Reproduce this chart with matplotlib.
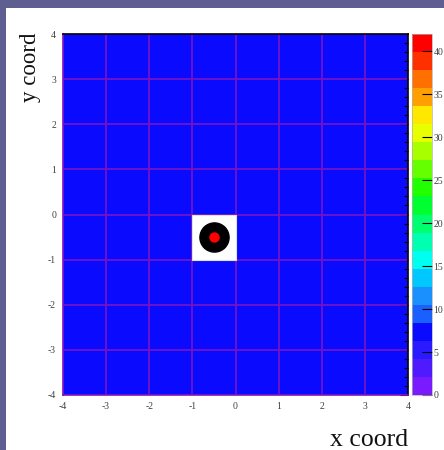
import numpy as np
import matplotlib
matplotlib.use("Agg")
import matplotlib.pyplot as plt
from matplotlib.colors import ListedColormap, BoundaryNorm
from matplotlib.patches import Rectangle
from matplotlib.ticker import MultipleLocator

# ---- data ----
x_edges = [-4, -3, -2, -1, 0, 1, 2, 3, 4]
y_edges = [-4, -3, -2, -1, 0, 1, 2, 3, 4]
# bin contents (rows = y from -4 up, cols = x from -4 right); 0 = empty bin (not drawn)
bin_values = [
    [7, 7, 7, 7, 7, 7, 7, 7],
    [7, 7, 7, 7, 7, 7, 7, 7],
    [7, 7, 7, 7, 7, 7, 7, 7],
    [7, 7, 7, 0, 7, 7, 7, 7],
    [7, 7, 7, 7, 7, 7, 7, 7],
    [7, 7, 7, 7, 7, 7, 7, 7],
    [7, 7, 7, 7, 7, 7, 7, 7],
    [7, 7, 7, 7, 7, 7, 7, 7],
]
marker_x = [-0.5]
marker_y = [-0.5]
z_max = 42.0
n_levels = 20
x_ticks = [-4, -3, -2, -1, 0, 1, 2, 3, 4]
y_ticks = [-4, -3, -2, -1, 0, 1, 2, 3, 4]
cbar_ticks = [0, 5, 10, 15, 20, 25, 30, 35, 40]
palette = ['#7a1aff', '#501aff', '#2a1aff', '#0a0aff', '#1a60ff', '#1a90ff',
           '#00c8ff', '#00fff0', '#00ffb0', '#00ff70', '#00ff30', '#22ff00',
           '#66ff00', '#a8ff00', '#e8ff00', '#ffe800', '#ffa000', '#ff7000',
           '#ff3000', '#ff0000']

W, H = 444, 450
fig = plt.figure(figsize=(W / 100, H / 100), dpi=100)
fig.patch.set_facecolor('#5e5e90')
fig.patches.append(Rectangle((6 / W, 0), 1 - 6 / W, 1 - 8 / H, transform=fig.transFigure,
                             facecolor='white', edgecolor='none', zorder=-10))

ax = fig.add_axes([63 / W, 1 - 395 / H, (408 - 63) / W, (395 - 34) / H])
ax.set_facecolor('white')

cmap = ListedColormap(palette)
levels = np.linspace(0, z_max, n_levels + 1)
norm = BoundaryNorm(levels, cmap.N)
Z = np.ma.masked_equal(np.array(bin_values, dtype=float), 0)
mesh = ax.pcolormesh(x_edges, y_edges, Z, cmap=cmap, norm=norm, zorder=1)

grid_col = '#7a14c4'
for v in x_edges:
    ax.axvline(v, color=grid_col, lw=1.2, zorder=2)
for v in y_edges:
    ax.axhline(v, color=grid_col, lw=1.2, zorder=2)

# empty bin covering
ax.add_patch(Rectangle((-1, -1), 1, 1, facecolor='white', edgecolor='#e0e0e0', lw=0.8, zorder=3))
ax.plot(marker_x, marker_y, 'o', ms=21, color='black', zorder=4)
ax.plot(marker_x, marker_y, 'o', ms=6.5, color='red', mec='red', zorder=5)

ax.set_xlim(-4, 4)
ax.set_ylim(-4, 4)
ax.set_xticks(x_ticks)
ax.set_yticks(y_ticks)
tick_font = dict(family='Liberation Serif', size=7, color='#404040')
ax.set_xticklabels([str(t) for t in x_ticks], fontdict=tick_font)
ax.set_yticklabels([str(t) for t in y_ticks], fontdict=tick_font)
ax.tick_params(axis='both', which='both', length=0, pad=5)
ax.yaxis.set_minor_locator(MultipleLocator(0.2))
ax.tick_params(axis='y', which='major', right=True, direction='in', length=6, width=0.8, color='black')
ax.tick_params(axis='y', which='minor', right=True, direction='in', length=3, width=0.8, color='black')
ax.tick_params(axis='y', which='both', left=False, labelright=False)
for s in ['top', 'right']:
    ax.spines[s].set_color('black')
    ax.spines[s].set_linewidth(1.2)
for s in ['left', 'bottom']:
    ax.spines[s].set_color(grid_col)
    ax.spines[s].set_linewidth(1.2)

cax = fig.add_axes([412 / W, 1 - 395 / H, 20 / W, (395 - 34) / H])
cb = fig.colorbar(mesh, cax=cax, boundaries=levels, ticks=cbar_ticks)
cb.outline.set_edgecolor('#b0b0b0')
cb.outline.set_linewidth(0.5)
cax.tick_params(direction='in', length=7, width=0.8, color='black', pad=1)
cax.set_yticklabels([str(t) for t in cbar_ticks], fontdict=tick_font)
cax.yaxis.set_minor_locator(plt.NullLocator())

fig.text(408 / W, 1 - 440 / H, 'x coord', ha='right', va='center',
         family='Liberation Serif', size=18.5, color='#111111')
fig.text(30 / W, 1 - 33 / H, 'y coord', ha='center', va='top', rotation=90,
         family='Liberation Serif', size=16.5, color='#111111')

fig.savefig('out.png', dpi=100, facecolor=fig.get_facecolor())
